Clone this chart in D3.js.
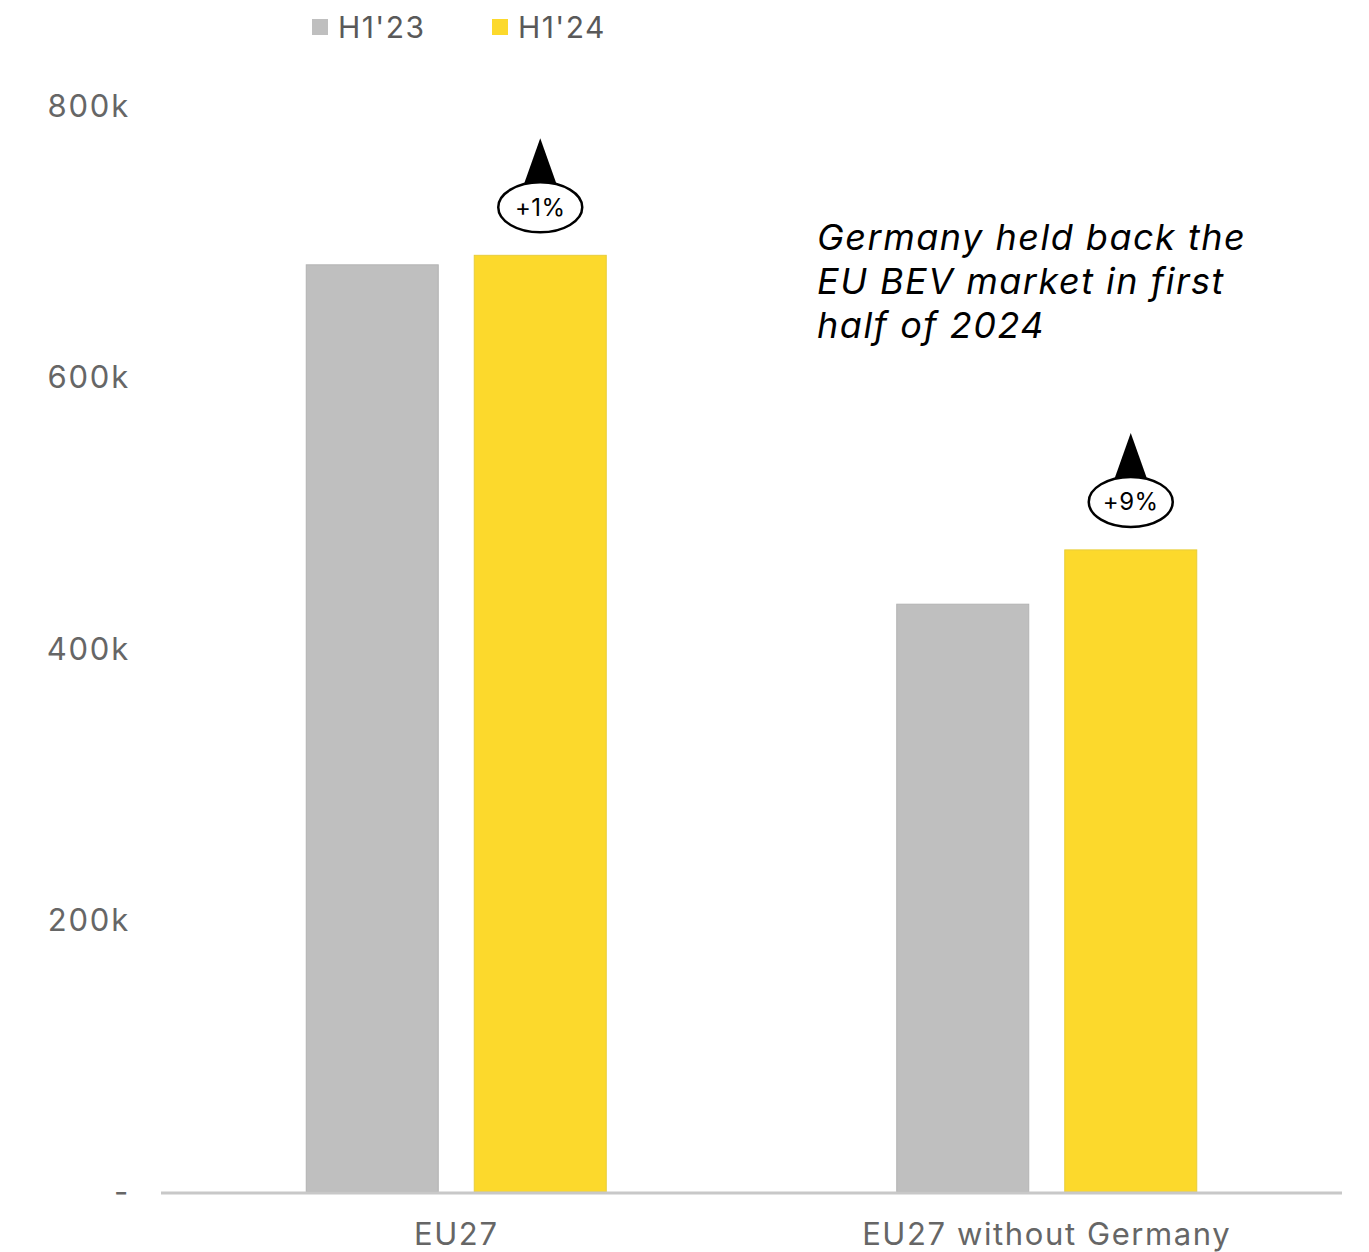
<!DOCTYPE html>
<html>
<head>
<meta charset="utf-8">
<script src="https://cdn.jsdelivr.net/npm/d3@7"></script>
<style>
  body { margin: 0; background: #fff; }
  svg text { font-family: Inter, "Noto Sans", sans-serif; }
</style>
</head>
<body>
<div id="chart"></div>
<script>
const categories = ["EU27", "EU27 without Germany"];
const series = ["H1'23", "H1'24"];
const h1_23 = [683000, 433000];
const h1_24 = [690000, 473000];
const changes = ["+1%", "+9%"];
const yTicks = [0, 200000, 400000, 600000, 800000];
const yTickLabels = ["-", "200k", "400k", "600k", "800k"];
const colors = ["#bfbfbf", "#fcd92c"];

const width = 1369, height = 1252;

const svg = d3.select('#chart')
  .append('svg')
  .attr('width', width)
  .attr('height', height);

const x0 = d3.scaleBand()
  .domain(categories)
  .range([161, 1342])
  .padding(0);

const groupWidth = 300;
const x1 = d3.scaleBand()
  .domain(series)
  .range([0, groupWidth])
  .paddingInner(36 / 168);

const y = d3.scaleLinear()
  .domain([0, 800000])
  .range([1192, 106]);

// y labels
svg.append('g')
  .selectAll('text')
  .data(yTicks)
  .enter()
  .append('text')
  .attr('x', 130)
  .attr('y', d => y(d))
  .attr('dy', '0.35em')
  .attr('text-anchor', 'end')
  .attr('fill', '#666')
  .style('font-size', '31px')
  .style('letter-spacing', '1.8px')
  .text((d, i) => yTickLabels[i]);

const offset = (x0.bandwidth() - groupWidth) / 2;
const values = [h1_23, h1_24];

const groups = svg.append('g')
  .selectAll('g')
  .data(categories)
  .enter()
  .append('g')
  .attr('transform', d => `translate(${x0(d) + offset},0)`);

groups.selectAll('rect')
  .data((d, i) => series.map((s, j) => ({ s, v: values[j][i], j })))
  .enter()
  .append('rect')
  .attr('x', d => x1(d.s))
  .attr('y', d => y(d.v))
  .attr('width', x1.bandwidth())
  .attr('height', d => y(0) - y(d.v))
  .attr('fill', d => colors[d.j])
  .attr('stroke', d => d.j === 0 ? '#b3b3b3' : '#e8cd3a')
  .attr('stroke-width', 1);

// baseline
svg.append('line')
  .attr('x1', 161)
  .attr('x2', 1342)
  .attr('y1', y(0) + 1)
  .attr('y2', y(0) + 1)
  .attr('stroke', '#c8c8c8')
  .attr('stroke-width', 3);

// x labels
svg.append('g')
  .selectAll('text')
  .data(categories)
  .enter()
  .append('text')
  .attr('x', d => x0(d) + x0.bandwidth() / 2)
  .attr('y', 1234)
  .attr('dy', '0.35em')
  .attr('text-anchor', 'middle')
  .attr('fill', '#666')
  .style('font-size', '31px')
  .style('letter-spacing', '1.6px')
  .text(d => d);

// change annotations
categories.forEach((c, i) => {
  const cx = x0(c) + offset + x1("H1'24") + x1.bandwidth() / 2;
  const cy = y(h1_24[i]) - 48;
  const g = svg.append('g');
  g.append('path')
    .attr('d', `M${cx},${cy - 69} L${cx - 16},${cy - 24} L${cx + 16},${cy - 24} Z`)
    .attr('fill', '#000');
  g.append('ellipse')
    .attr('cx', cx)
    .attr('cy', cy)
    .attr('rx', 42)
    .attr('ry', 25)
    .attr('fill', '#fff')
    .attr('stroke', '#000')
    .attr('stroke-width', 2.5);
  g.append('text')
    .attr('x', cx)
    .attr('y', cy)
    .attr('dy', '0.35em')
    .attr('text-anchor', 'middle')
    .attr('fill', '#000')
    .style('font-size', '24px')
    .style('letter-spacing', '0.5px')
    .text(changes[i]);
});

// legend
const legend = svg.append('g')
  .selectAll('g')
  .data(series)
  .enter()
  .append('g')
  .attr('transform', (d, i) => `translate(${312 + i * 180},19)`);

legend.append('rect')
  .attr('width', 16)
  .attr('height', 16)
  .attr('fill', (d, i) => colors[i]);

legend.append('text')
  .attr('x', 26)
  .attr('y', 8)
  .attr('dy', '0.35em')
  .attr('fill', '#595959')
  .style('font-size', '30px')
  .style('letter-spacing', '1.4px')
  .text(d => d);

// note
const note = ["Germany held back the", "EU BEV market in first", "half of 2024"];
svg.append('text')
  .attr('x', 817)
  .attr('y', 250)
  .attr('fill', '#000')
  .style('font-size', '36px')
  .style('font-style', 'italic')
  .style('letter-spacing', '1.5px')
  .selectAll('tspan')
  .data(note)
  .enter()
  .append('tspan')
  .attr('x', 817)
  .attr('dy', (d, i) => i === 0 ? 0 : 44)
  .text(d => d);
</script>
</body>
</html>
